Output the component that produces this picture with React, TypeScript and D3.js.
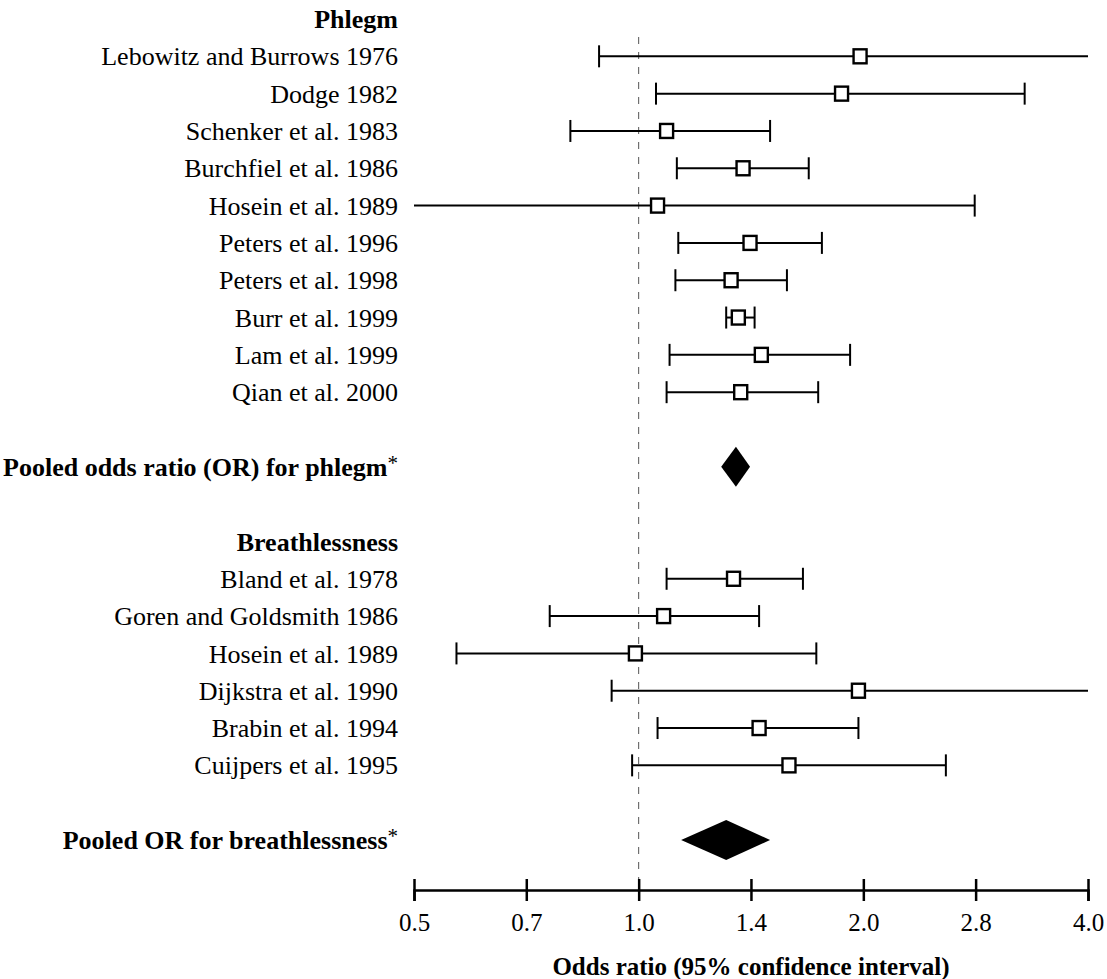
import { useEffect, useRef } from 'react'
import * as d3 from 'd3'

// phlegm studies
const phlegmStudies = [
  'Lebowitz and Burrows 1976',
  'Dodge 1982',
  'Schenker et al. 1983',
  'Burchfiel et al. 1986',
  'Hosein et al. 1989',
  'Peters et al. 1996',
  'Peters et al. 1998',
  'Burr et al. 1999',
  'Lam et al. 1999',
  'Qian et al. 2000',
]
const phlegmOR = [1.98, 1.87, 1.09, 1.38, 1.06, 1.41, 1.33, 1.36, 1.46, 1.37]
const phlegmLow = [0.885, 1.055, 0.81, 1.125, 0.48, 1.13, 1.12, 1.31, 1.1, 1.09]
const phlegmHigh = [4.4, 3.29, 1.5, 1.69, 2.82, 1.76, 1.58, 1.43, 1.92, 1.74]

// breathlessness studies
const breathStudies = [
  'Bland et al. 1978',
  'Goren and Goldsmith 1986',
  'Hosein et al. 1989',
  'Dijkstra et al. 1990',
  'Brabin et al. 1994',
  'Cuijpers et al. 1995',
]
const breathOR = [1.34, 1.08, 0.99, 1.97, 1.45, 1.59]
const breathLow = [1.09, 0.76, 0.57, 0.92, 1.06, 0.98]
const breathHigh = [1.66, 1.45, 1.73, 4.3, 1.97, 2.58]

// pooled [or, low, high]
const pooledPhlegm = [1.35, 1.29, 1.41]
const pooledBreath = [1.31, 1.14, 1.5]

const tickValues = [0.5, 0.707, 1, 1.414, 2, 2.828, 4]
const tickLabels = ['0.5', '0.7', '1.0', '1.4', '2.0', '2.8', '4.0']

const FONT = "'Liberation Serif', 'Times New Roman', serif"

const App = () => {
  const svgRef = useRef(null)

  useEffect(() => {
    const svg = d3.select(svgRef.current)
    svg.selectAll('*').remove()

    const x = d3.scaleLog().base(2).domain([0.5, 4]).range([414, 1088])
    const y = d3.scaleLinear().domain([0, 22]).range([19, 840])
    const labelX = 398

    // rows: header, studies, pooled
    const studies = [
      ...phlegmStudies.map((name, i) => ({
        name, or: phlegmOR[i], lo: phlegmLow[i], hi: phlegmHigh[i], row: i + 1,
      })),
      ...breathStudies.map((name, i) => ({
        name, or: breathOR[i], lo: breathLow[i], hi: breathHigh[i], row: i + 15,
      })),
    ]
    const headers = [
      { text: 'Phlegm', row: 0, star: false },
      { text: 'Pooled odds ratio (OR) for phlegm', row: 12, star: true },
      { text: 'Breathlessness', row: 14, star: false },
      { text: 'Pooled OR for breathlessness', row: 22, star: true },
    ]
    const pooled = [
      { v: pooledPhlegm, row: 12 },
      { v: pooledBreath, row: 22 },
    ]

    const g = svg.append('g')

    // reference line at 1.0
    g.append('line')
      .attr('x1', x(1)).attr('x2', x(1))
      .attr('y1', 37).attr('y2', 890)
      .attr('stroke', '#555')
      .attr('stroke-width', 1)
      .attr('stroke-dasharray', '7,8')

    // study labels
    g.selectAll('text.study')
      .data(studies)
      .enter()
      .append('text')
      .attr('class', 'study')
      .attr('x', labelX)
      .attr('y', (d) => y(d.row))
      .attr('dy', '0.35em')
      .attr('text-anchor', 'end')
      .attr('font-family', FONT)
      .attr('font-size', 26)
      .text((d) => d.name)

    const hdr = g.selectAll('text.hdr')
      .data(headers)
      .enter()
      .append('text')
      .attr('class', 'hdr')
      .attr('x', labelX)
      .attr('y', (d) => y(d.row))
      .attr('dy', '0.35em')
      .attr('text-anchor', 'end')
      .attr('font-family', FONT)
      .attr('font-size', 26)
      .attr('font-weight', 'bold')
    hdr.append('tspan').text((d) => d.text)
    hdr.filter((d) => d.star)
      .append('tspan')
      .attr('font-weight', 'normal')
      .attr('font-size', 21)
      .attr('dy', '-0.3em')
      .text('*')

    // CI lines
    const ci = g.selectAll('g.ci')
      .data(studies)
      .enter()
      .append('g')
      .attr('class', 'ci')
      .attr('stroke', '#000')
      .attr('stroke-width', 2)

    ci.append('line')
      .attr('x1', (d) => x(Math.max(d.lo, 0.5)))
      .attr('x2', (d) => x(Math.min(d.hi, 4)))
      .attr('y1', (d) => y(d.row))
      .attr('y2', (d) => y(d.row))

    ci.filter((d) => d.lo >= 0.5)
      .append('line')
      .attr('x1', (d) => x(d.lo)).attr('x2', (d) => x(d.lo))
      .attr('y1', (d) => y(d.row) - 11).attr('y2', (d) => y(d.row) + 11)
    ci.filter((d) => d.hi <= 4)
      .append('line')
      .attr('x1', (d) => x(d.hi)).attr('x2', (d) => x(d.hi))
      .attr('y1', (d) => y(d.row) - 11).attr('y2', (d) => y(d.row) + 11)

    ci.append('rect')
      .attr('x', (d) => x(d.or) - 6.5)
      .attr('y', (d) => y(d.row) - 7)
      .attr('width', 13)
      .attr('height', 14)
      .attr('fill', '#fff')
      .attr('stroke-width', 2.4)

    // pooled diamonds
    g.selectAll('path.pooled')
      .data(pooled)
      .enter()
      .append('path')
      .attr('class', 'pooled')
      .attr('d', (d) => {
        const cy = y(d.row)
        return `M${x(d.v[1])},${cy}L${x(d.v[0])},${cy - 20}L${x(d.v[2])},${cy}L${x(d.v[0])},${cy + 20}Z`
      })
      .attr('fill', '#000')

    // axis
    const axis = d3.axisBottom(x)
      .tickValues(tickValues)
      .tickFormat((d, i) => tickLabels[i])
      .tickSizeOuter(0)
      .tickSize(11)
      .tickPadding(12)
    const ax = g.append('g')
      .attr('transform', 'translate(0,890)')
      .call(axis)
    ax.select('.domain').attr('stroke-width', 2.5)
    ax.selectAll('.tick line').attr('y1', -11).attr('stroke-width', 2.5)
    ax.selectAll('.tick text')
      .attr('font-family', FONT)
      .attr('font-size', 25)
      .attr('fill', '#000')

    g.append('text')
      .attr('x', (x(0.5) + x(4)) / 2)
      .attr('y', 966)
      .attr('dy', '0.35em')
      .attr('text-anchor', 'middle')
      .attr('font-family', FONT)
      .attr('font-size', 25)
      .attr('font-weight', 'bold')
      .text('Odds ratio (95% confidence interval)')
  }, [])

  return (
    <svg
      ref={svgRef}
      width={1107}
      height={979}
      style={{ position: 'absolute', left: 0, top: 0, background: '#fff' }}
    ></svg>
  )
}

export default App
